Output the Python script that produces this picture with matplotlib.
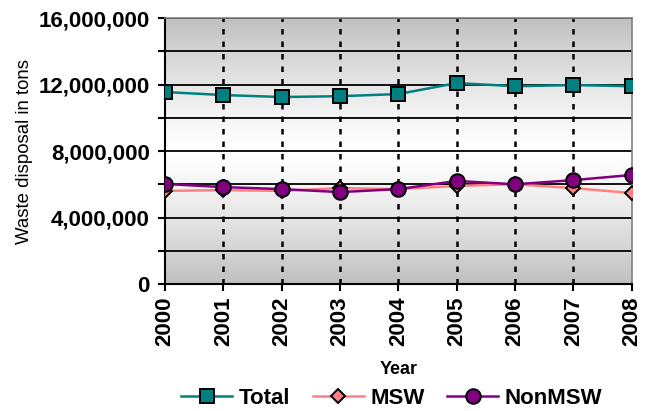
import matplotlib
matplotlib.use("Agg")
import matplotlib.pyplot as plt
import numpy as np
from matplotlib.colors import LinearSegmentedColormap
from matplotlib.ticker import FuncFormatter, MultipleLocator

years = [2000, 2001, 2002, 2003, 2004, 2005, 2006, 2007, 2008]
total = [11550000, 11370000, 11250000, 11300000, 11430000, 12090000, 11900000, 11970000, 11900000]
msw = [5600000, 5650000, 5600000, 5770000, 5710000, 5900000, 6000000, 5770000, 5470000]
non_msw = [6020000, 5830000, 5710000, 5530000, 5710000, 6200000, 6000000, 6250000, 6560000]

plt.rcParams["font.family"] = ["Liberation Sans", "DejaVu Sans"]

fig = plt.figure(figsize=(6.48, 4.11), dpi=100)
ax = fig.add_axes([0.2546, 0.309, 0.7204, 0.647])

# vertical gray-white-gray gradient background
bg_cmap = LinearSegmentedColormap.from_list("bg", ["#ffffff", "#c0c0c0"])
grad = np.abs(np.linspace(-1, 1, 256))[:, None] ** 1.3
ax.imshow(grad, cmap=bg_cmap, vmin=0, vmax=1, aspect="auto",
          extent=(0, 1, 0, 1), transform=ax.transAxes, zorder=0)

ax.plot(years, total, color="#008080", lw=1.8, marker="s", ms=9.5,
        mfc="#008080", mec="black", mew=1.4, label="Total", zorder=4)
ax.plot(years, msw, color="#FF8080", lw=1.8, marker="D", ms=7.2,
        mfc="#FF8080", mec="black", mew=1.4, label="MSW", zorder=4)
ax.plot(years, non_msw, color="#800080", lw=1.8, marker="o", ms=10.5,
        mfc="#800080", mec="black", mew=1.4, label="NonMSW", zorder=5)

ax.set_xlim(years[0], years[-1])
ax.set_ylim(0, 16000000)
ax.yaxis.set_major_locator(MultipleLocator(4000000))
ax.yaxis.set_minor_locator(MultipleLocator(2000000))
ax.yaxis.set_major_formatter(FuncFormatter(lambda v, p: f"{int(v):,}"))
ax.set_xticks(years)
ax.set_xticklabels([str(y) for y in years], rotation=90, fontsize=16, fontweight="bold")
for lbl in ax.get_yticklabels():
    lbl.set_fontsize(16)
    lbl.set_fontweight("bold")

for v in np.arange(2000000, 16000001, 2000000):
    ax.axhline(v, color="black", lw=1.3, zorder=2)
for y in years[1:-1]:
    ax.axvline(y, color="black", lw=1.8, ls=(0, (2.2, 2.8)), zorder=2)

ax.tick_params(axis="both", which="both", direction="out", length=5, width=1.5, colors="black")
ax.tick_params(axis="x", pad=4)
ax.tick_params(axis="y", pad=6)
ax.spines["left"].set_linewidth(1.5)
ax.spines["bottom"].set_linewidth(1.5)
ax.spines["top"].set_color("#808080")
ax.spines["right"].set_color("#808080")
ax.spines["top"].set_linewidth(1.2)
ax.spines["right"].set_linewidth(1.2)

ax.set_ylabel("Waste disposal in tons", fontsize=13.4, labelpad=4)
ax.set_xlabel("Year", fontsize=13, fontweight="bold", labelpad=11)

ax.legend(loc="center", bbox_to_anchor=(0.486, -0.43), ncol=3, frameon=False,
          prop={"weight": "bold", "size": 16}, handlelength=2.3, columnspacing=1.0,
          handletextpad=0.3)

fig.savefig("out.png", dpi=100)
